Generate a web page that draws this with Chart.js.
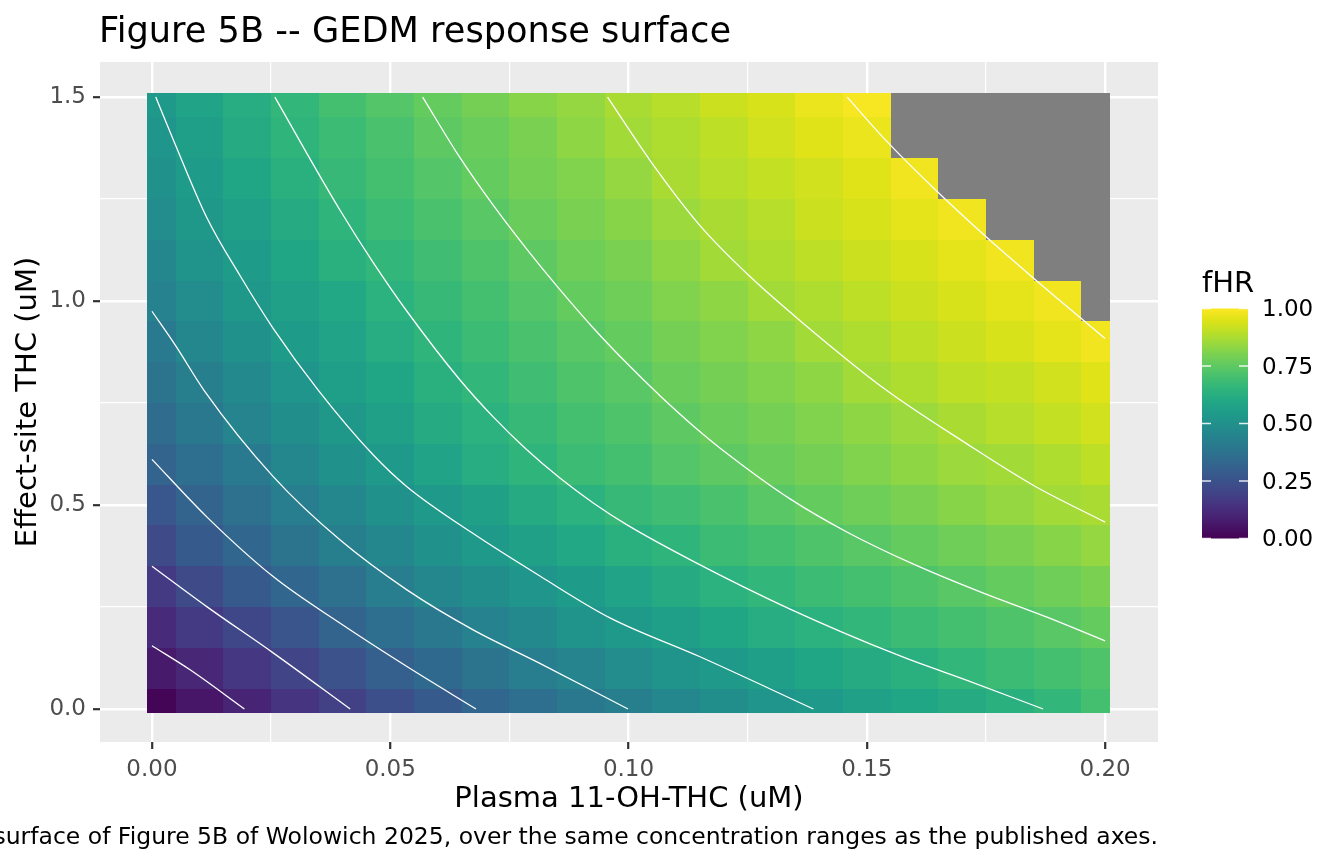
<!DOCTYPE html>
<html>
<head>
<meta charset="utf-8">
<title>Figure 5B -- GEDM response surface</title>
<script src="https://cdn.jsdelivr.net/npm/chart.js@4.4.1/dist/chart.umd.min.js"></script>
<style>
  html, body { margin: 0; padding: 0; background: #ffffff; }
  canvas { display: block; }
</style>
</head>
<body>
<canvas id="surfaceChart" width="1344" height="864" style="width:1344px;height:864px"></canvas>
<script>
// grid of the response surface (x = plasma 11-OH-THC, y = effect-site THC)
const gridX = [0, 0.01, 0.02, 0.03, 0.04, 0.05, 0.06, 0.07, 0.08, 0.09, 0.10,
               0.11, 0.12, 0.13, 0.14, 0.15, 0.16, 0.17, 0.18, 0.19, 0.20];
const gridY = [0, 0.1, 0.2, 0.3, 0.4, 0.5, 0.6, 0.7, 0.8, 0.9, 1.0, 1.1, 1.2, 1.3, 1.4, 1.5];

// fHR, one row per gridY value; null = out of range (grey)
const fhrValues = [
  [0.01, 0.06, 0.10, 0.15, 0.19, 0.24, 0.28, 0.33, 0.36, 0.40, 0.43, 0.46, 0.49, 0.52, 0.54, 0.57, 0.59, 0.61, 0.63, 0.66, 0.70],
  [0.07, 0.11, 0.16, 0.20, 0.25, 0.30, 0.34, 0.38, 0.42, 0.45, 0.48, 0.51, 0.54, 0.56, 0.59, 0.61, 0.63, 0.66, 0.68, 0.70, 0.72],
  [0.12, 0.17, 0.21, 0.26, 0.32, 0.36, 0.40, 0.44, 0.47, 0.51, 0.54, 0.56, 0.59, 0.62, 0.64, 0.66, 0.68, 0.70, 0.72, 0.74, 0.76],
  [0.17, 0.22, 0.28, 0.33, 0.37, 0.42, 0.46, 0.49, 0.52, 0.55, 0.58, 0.61, 0.64, 0.66, 0.68, 0.70, 0.72, 0.74, 0.76, 0.78, 0.80],
  [0.22, 0.28, 0.33, 0.38, 0.43, 0.46, 0.50, 0.54, 0.57, 0.60, 0.63, 0.65, 0.68, 0.70, 0.72, 0.74, 0.76, 0.78, 0.80, 0.82, 0.84],
  [0.27, 0.32, 0.37, 0.42, 0.46, 0.50, 0.54, 0.57, 0.61, 0.64, 0.67, 0.69, 0.71, 0.74, 0.76, 0.78, 0.80, 0.82, 0.84, 0.86, 0.87],
  [0.32, 0.36, 0.41, 0.46, 0.50, 0.54, 0.58, 0.62, 0.65, 0.68, 0.70, 0.73, 0.75, 0.77, 0.79, 0.81, 0.83, 0.85, 0.86, 0.88, 0.90],
  [0.35, 0.40, 0.45, 0.49, 0.53, 0.57, 0.61, 0.64, 0.67, 0.70, 0.72, 0.75, 0.77, 0.79, 0.81, 0.83, 0.85, 0.87, 0.89, 0.91, 0.93],
  [0.38, 0.43, 0.47, 0.52, 0.56, 0.59, 0.63, 0.66, 0.69, 0.72, 0.74, 0.77, 0.79, 0.81, 0.83, 0.86, 0.88, 0.90, 0.91, 0.93, 0.95],
  [0.41, 0.46, 0.50, 0.55, 0.58, 0.62, 0.65, 0.68, 0.71, 0.74, 0.76, 0.79, 0.81, 0.83, 0.86, 0.88, 0.90, 0.92, 0.94, 0.96, 0.98],
  [0.44, 0.48, 0.53, 0.57, 0.60, 0.64, 0.67, 0.70, 0.73, 0.76, 0.78, 0.81, 0.83, 0.86, 0.88, 0.90, 0.92, 0.94, 0.96, 0.98, null],
  [0.46, 0.51, 0.55, 0.59, 0.63, 0.66, 0.69, 0.72, 0.75, 0.78, 0.80, 0.83, 0.86, 0.88, 0.90, 0.92, 0.94, 0.96, 0.98, null, null],
  [0.48, 0.53, 0.57, 0.61, 0.65, 0.68, 0.71, 0.74, 0.77, 0.80, 0.82, 0.85, 0.87, 0.89, 0.92, 0.94, 0.96, 0.98, null, null, null],
  [0.50, 0.55, 0.59, 0.63, 0.67, 0.70, 0.73, 0.76, 0.79, 0.81, 0.84, 0.87, 0.89, 0.91, 0.93, 0.95, 0.98, null, null, null, null],
  [0.52, 0.56, 0.61, 0.65, 0.68, 0.71, 0.75, 0.77, 0.80, 0.83, 0.86, 0.88, 0.90, 0.93, 0.95, 0.97, null, null, null, null, null],
  [0.54, 0.58, 0.62, 0.66, 0.70, 0.73, 0.76, 0.79, 0.82, 0.84, 0.87, 0.89, 0.92, 0.94, 0.97, 0.99, null, null, null, null, null]
];

// white contour lines, [x, y] points
const contour1 = [[0, 0.155], [0.008, 0.096], [0.0194, 0]];
const contour2 = [[0, 0.35], [0.0115, 0.251], [0.0255, 0.137], [0.0416, 0]];
const contour3 = [[0, 0.612], [0.0115, 0.471], [0.0255, 0.324], [0.0395, 0.21], [0.0535, 0.104], [0.068, 0]];
const contour4 = [[0, 0.975], [0.005, 0.89], [0.011, 0.78], [0.0255, 0.569], [0.0395, 0.414], [0.0535, 0.292],
                  [0.0674, 0.194], [0.0814, 0.112], [0.0999, 0]];
const contour5 = [[0.0008, 1.5], [0.0045, 1.395], [0.0115, 1.205], [0.0185, 1.062], [0.0255, 0.932], [0.035, 0.78],
                  [0.0465, 0.622], [0.0535, 0.545], [0.0674, 0.43], [0.0814, 0.326], [0.096, 0.224], [0.115, 0.128],
                  [0.1388, 0]];
const contour6 = [[0.0258, 1.5], [0.0325, 1.362], [0.0395, 1.222], [0.0464, 1.095], [0.0535, 0.975], [0.0646, 0.807],
                  [0.0716, 0.716], [0.0786, 0.636], [0.0856, 0.566], [0.0926, 0.505], [0.0996, 0.452], [0.1136, 0.362],
                  [0.1339, 0.245], [0.157, 0.13], [0.172, 0.066], [0.187, 0]];
const contour7 = [[0.0568, 1.5], [0.0646, 1.352], [0.0716, 1.235], [0.0786, 1.128], [0.0856, 1.028], [0.0926, 0.934],
                  [0.0996, 0.848], [0.1066, 0.768], [0.1136, 0.694], [0.1206, 0.627], [0.1339, 0.515], [0.1458, 0.434],
                  [0.1598, 0.355], [0.1738, 0.287], [0.1878, 0.225], [0.2, 0.167]];
const contour8 = [[0.0956, 1.5], [0.1045, 1.345], [0.115, 1.185], [0.1255, 1.06], [0.136, 0.952], [0.1537, 0.785],
                  [0.171, 0.65], [0.185, 0.548], [0.2, 0.458]];
const contour9 = [[0.1459, 1.5], [0.1535, 1.40], [0.164, 1.277], [0.1745, 1.163], [0.185, 1.056], [0.2, 0.908]];
const contourLines = [contour1, contour2, contour3, contour4, contour5, contour6, contour7, contour8, contour9];

// axis and legend ticks
const xMajorTicks = [0, 0.05, 0.10, 0.15, 0.20];
const xMinorTicks = [0.025, 0.075, 0.125, 0.175];
const yMajorTicks = [0, 0.5, 1.0, 1.5];
const yMinorTicks = [0.25, 0.75, 1.25];
const legendTicks = [0, 0.25, 0.5, 0.75, 1.0];

const FONT = '"DejaVu Sans", sans-serif';
const naColour = '#7F7F7F';
const rasterPadX = 0.001;
const rasterPadY = 0.009;

const viridisStops = ['#440154', '#471365', '#482475', '#463480', '#414487', '#3B528B', '#355F8D',
  '#2F6C8E', '#2A788E', '#25848E', '#21918C', '#1E9C89', '#22A884', '#2FB47C', '#44BF70',
  '#5EC962', '#7AD151', '#9BD93C', '#BDDF26', '#DFE318', '#FDE725'];

function hexRgb(h) {
  return [1, 3, 5].map(i => parseInt(h.slice(i, i + 2), 16));
}

function viridis(v) {
  const t = Math.min(1, Math.max(0, v)) * (viridisStops.length - 1);
  const i = Math.min(Math.floor(t), viridisStops.length - 2);
  const f = t - i;
  const a = hexRgb(viridisStops[i]), b = hexRgb(viridisStops[i + 1]);
  const c = a.map((ch, k) => Math.round(ch + (b[k] - ch) * f));
  return 'rgb(' + c.join(',') + ')';
}

// cell borders half way between grid points
function cellEdges(vals, pad) {
  const e = [vals[0] - pad];
  for (let i = 1; i < vals.length; i++) e.push((vals[i - 1] + vals[i]) / 2);
  e.push(vals[vals.length - 1] + pad);
  return e;
}

function tickList(major, minor) {
  return major.concat(minor).sort((a, b) => a - b).map(v => ({ value: v }));
}

const surfacePlugin = {
  id: 'surface',
  beforeDraw(chart) {
    const { ctx, chartArea: a } = chart;
    ctx.save();
    ctx.fillStyle = '#EBEBEB';
    ctx.fillRect(a.left, a.top, a.right - a.left, a.bottom - a.top);
    ctx.restore();
  },
  beforeDatasetsDraw(chart) {
    const ctx = chart.ctx;
    const xs = chart.scales.x, ys = chart.scales.y;
    const xEdges = cellEdges(gridX, rasterPadX);
    const yEdges = cellEdges(gridY, rasterPadY);
    ctx.save();
    gridY.forEach((yv, j) => {
      const top = Math.round(ys.getPixelForValue(yEdges[j + 1]));
      const bottom = Math.round(ys.getPixelForValue(yEdges[j]));
      gridX.forEach((xv, i) => {
        const left = Math.round(xs.getPixelForValue(xEdges[i]));
        const right = Math.round(xs.getPixelForValue(xEdges[i + 1]));
        const v = fhrValues[j][i];
        ctx.fillStyle = v === null ? naColour : viridis(v);
        ctx.fillRect(left, top, right - left, bottom - top);
      });
    });
    ctx.restore();
  },
  afterDraw(chart) {
    const { ctx, chartArea: a } = chart;
    ctx.save();
    ctx.fillStyle = '#000000';

    // title
    ctx.font = '35.2px ' + FONT;
    ctx.textAlign = 'left';
    ctx.textBaseline = 'alphabetic';
    ctx.fillText('Figure 5B -- GEDM response surface', 99, 42);

    // axis titles
    ctx.font = '29px ' + FONT;
    ctx.textAlign = 'center';
    ctx.fillText('Plasma 11-OH-THC (uM)', (a.left + a.right) / 2, 807);
    ctx.save();
    ctx.translate(28, (a.top + a.bottom) / 2);
    ctx.rotate(-Math.PI / 2);
    ctx.textBaseline = 'middle';
    ctx.fillText('Effect-site THC (uM)', 0, 0);
    ctx.restore();

    // caption
    ctx.font = '23.5px ' + FONT;
    ctx.textAlign = 'right';
    ctx.fillText('surface of Figure 5B of Wolowich 2025, over the same concentration ranges as the published axes.', a.right, 844);

    // colour bar
    const barL = 1202, barR = 1248, barTop = 308.5, barBot = 538.5;
    const grad = ctx.createLinearGradient(0, barBot, 0, barTop);
    viridisStops.forEach((c, k) => grad.addColorStop(k / (viridisStops.length - 1), c));
    ctx.fillStyle = grad;
    ctx.fillRect(barL, barTop, barR - barL, barBot - barTop);

    ctx.font = '29px ' + FONT;
    ctx.fillStyle = '#000000';
    ctx.textAlign = 'left';
    ctx.fillText('fHR', 1202, 292);

    ctx.font = '23px ' + FONT;
    ctx.textBaseline = 'middle';
    ctx.strokeStyle = 'rgba(255,255,255,0.85)';
    ctx.lineWidth = 1.4;
    legendTicks.forEach(v => {
      const y = barBot - v * (barBot - barTop);
      ctx.beginPath();
      ctx.moveTo(barL, y); ctx.lineTo(barL + 9, y);
      ctx.moveTo(barR - 9, y); ctx.lineTo(barR, y);
      ctx.stroke();
      ctx.fillText(v.toFixed(2), 1262, y + 2);
    });
    ctx.restore();
  }
};

const isMajorX = v => xMajorTicks.includes(v);
const isMajorY = v => yMajorTicks.includes(v);

new Chart(document.getElementById('surfaceChart'), {
  type: 'scatter',
  data: {
    datasets: contourLines.map(pts => ({
      data: pts.map(([x, y]) => ({ x, y })),
      showLine: true,
      borderColor: '#FFFFFF',
      borderWidth: 1.3,
      pointRadius: 0,
      cubicInterpolationMode: 'monotone',
      fill: false
    }))
  },
  options: {
    responsive: false,
    devicePixelRatio: 1,
    animation: false,
    events: [],
    layout: { padding: { left: 0, right: 186, top: 62, bottom: 0 } },
    plugins: {
      legend: { display: false },
      title: { display: false },
      tooltip: { enabled: false }
    },
    scales: {
      x: {
        type: 'linear',
        position: 'bottom',
        min: -0.0109,
        max: 0.2111,
        afterBuildTicks: scale => { scale.ticks = tickList(xMajorTicks, xMinorTicks); },
        afterFit: scale => { scale.height = 122; },
        border: { display: false },
        grid: {
          color: '#FFFFFF',
          lineWidth: ctx => (ctx.tick && isMajorX(ctx.tick.value) ? 2.4 : 1.2),
          drawTicks: true,
          tickLength: 7,
          tickWidth: 2.2,
          tickColor: ctx => (ctx.tick && isMajorX(ctx.tick.value) ? '#333333' : 'rgba(0,0,0,0)')
        },
        ticks: {
          autoSkip: false,
          maxRotation: 0,
          padding: 7,
          color: '#4D4D4D',
          font: { family: FONT, size: 23 },
          callback: v => (isMajorX(v) ? v.toFixed(2) : '')
        }
      },
      y: {
        type: 'linear',
        position: 'left',
        min: -0.0809,
        max: 1.586,
        afterBuildTicks: scale => { scale.ticks = tickList(yMajorTicks, yMinorTicks); },
        afterFit: scale => { scale.width = 100; },
        border: { display: false },
        grid: {
          color: '#FFFFFF',
          lineWidth: ctx => (ctx.tick && isMajorY(ctx.tick.value) ? 2.4 : 1.2),
          drawTicks: true,
          tickLength: 7,
          tickWidth: 2.2,
          tickColor: ctx => (ctx.tick && isMajorY(ctx.tick.value) ? '#333333' : 'rgba(0,0,0,0)')
        },
        ticks: {
          autoSkip: false,
          padding: 7,
          color: '#4D4D4D',
          font: { family: FONT, size: 23 },
          callback: v => (isMajorY(v) ? v.toFixed(1) : '')
        }
      }
    }
  },
  plugins: [surfacePlugin]
});
</script>
</body>
</html>
